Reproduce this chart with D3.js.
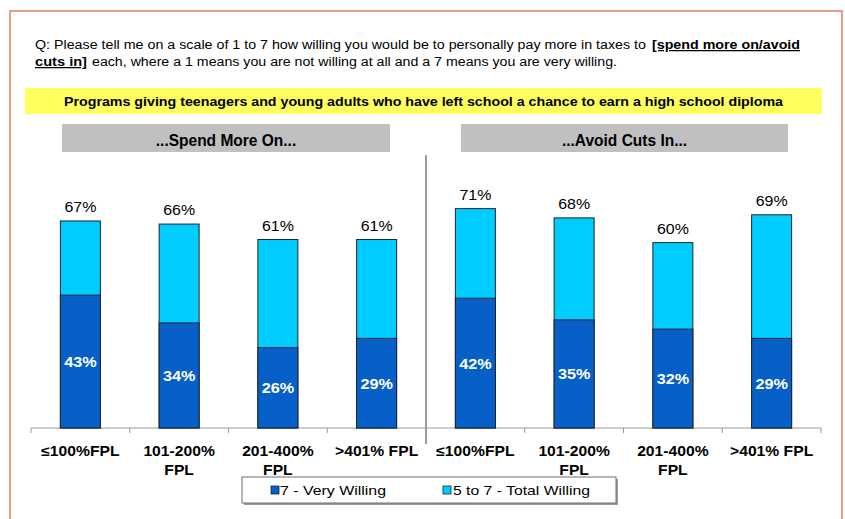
<!DOCTYPE html>
<html>
<head>
<meta charset="utf-8">
<script src="https://cdn.jsdelivr.net/npm/d3@7"></script>
<style>
  html, body { margin: 0; padding: 0; background: #fff; }
  svg { display: block; font-family: Arial, "Liberation Sans", sans-serif; }
</style>
</head>
<body>
<svg id="chart" width="845" height="519"></svg>
<script>
// Survey results: willingness to pay more in taxes, by income group (% of FPL)
const incomeGroups = ["≤100%FPL", "101-200%\nFPL", "201-400%\nFPL", ">401% FPL"];
const panelTitles = ["...Spend More On...", "...Avoid Cuts In..."];
const seriesNames = ["7 - Very Willing", "5 to 7 - Total Willing"];
const spendVeryWilling = [43, 34, 26, 29];
const spendTotalWilling = [67, 66, 61, 61];
const avoidVeryWilling = [42, 35, 32, 29];
const avoidTotalWilling = [71, 68, 60, 69];
const questionLine1 = ["Q: Please tell me on a scale of 1 to 7 how willing you would be to personally pay more in taxes to", "[spend more on/avoid"];
const questionLine2 = ["cuts in]", "each, where a 1 means you are not willing at all and a 7 means you are very willing."];
const programTitle = "Programs giving teenagers and young adults who have left school a chance to earn a high school diploma";

const DARK = "#0660C8", LIGHT = "#00CCFF", EDGE = "#1c2433";

// Flat list of bars: panel index, group index, values
const rows = [];
[[spendVeryWilling, spendTotalWilling], [avoidVeryWilling, avoidTotalWilling]].forEach(([very, total], p) => {
  incomeGroups.forEach((g, i) => rows.push({ key: p + "-" + i, panel: p, group: g, very: very[i], total: total[i] }));
});

const svg = d3.select("#chart");

// text helper with optional horizontal scaling
function label(parent, o) {
  const g = parent.append("g").attr("transform", `translate(${o.x},${o.y}) scale(${o.sx || 1},1)`);
  const t = g.append("text")
    .attr("text-anchor", o.anchor || "start")
    .attr("font-size", o.size)
    .attr("font-weight", o.weight || "normal")
    .attr("fill", o.fill || "#000")
    .text(o.text);
  if (o.dy) t.attr("dy", o.dy);
  return t;
}

// outer frame
svg.append("rect").attr("x", 10).attr("y", 11).attr("width", 832).attr("height", 520)
  .attr("fill", "#fff").attr("stroke", "#E8836B").attr("stroke-width", 1.6);

// question text (fitted segments)
function seg(x, y, text, width, bold) {
  const t = svg.append("text").attr("x", x).attr("y", y).attr("font-size", 12.5)
    .attr("font-weight", bold ? "bold" : "normal")
    .attr("textLength", width).attr("lengthAdjust", "spacingAndGlyphs")
    .text(text);
  if (bold) t.attr("text-decoration", "underline");
}
seg(35, 49, questionLine1[0], 611, false);
seg(652, 49, questionLine1[1], 148, true);
seg(35, 66, questionLine2[0], 52, true);
seg(92, 66, questionLine2[1], 525, false);

// yellow program banner
svg.append("rect").attr("x", 25).attr("y", 88).attr("width", 797).attr("height", 26).attr("fill", "#FFFF5E");
svg.append("text").attr("x", 64).attr("y", 106).attr("font-size", 12.5).attr("font-weight", "bold")
  .attr("textLength", 719).attr("lengthAdjust", "spacingAndGlyphs").text(programTitle);

// scales
const keys = rows.map(d => d.key);
const x = d3.scaleBand().domain(keys).range([31, 821]).paddingInner(0.595).paddingOuter(0.2975);
const step = x.step();
const y = d3.scaleLinear().domain([0, 100]).range([428, 119]);

// panel header boxes
const panelExtent = [[62, 390], [461, 788]];
panelTitles.forEach((t, p) => {
  const [a, b] = panelExtent[p];
  svg.append("rect").attr("x", a).attr("y", 124).attr("width", b - a).attr("height", 28).attr("fill", "#C0C0C0");
  label(svg, { x: (a + b) / 2, y: 146, text: t, size: 16, weight: "bold", anchor: "middle", sx: 0.97 });
});

// divider between panels
const divX = 31 + step * incomeGroups.length;
svg.append("line").attr("x1", divX).attr("x2", divX).attr("y1", 155).attr("y2", 444)
  .attr("stroke", "#7a7a7a").attr("stroke-width", 1.5);

// axis baseline and category boundary ticks
const axis = svg.append("g").attr("class", "x-axis");
axis.append("line").attr("x1", 31).attr("x2", 821).attr("y1", y(0)).attr("y2", y(0))
  .attr("stroke", "#9a9a9a").attr("stroke-width", 1);
d3.range(rows.length + 1).forEach(i => {
  if (i === incomeGroups.length) return;
  const tx = 31 + i * step;
  axis.append("line").attr("x1", tx).attr("x2", tx).attr("y1", y(0)).attr("y2", y(0) + 5)
    .attr("stroke", "#9a9a9a").attr("stroke-width", 1);
});

// bars: total behind, very willing in front
const bars = svg.append("g");
bars.selectAll("rect.total").data(rows).join("rect").attr("class", "total")
  .attr("x", d => x(d.key)).attr("width", x.bandwidth())
  .attr("y", d => y(d.total)).attr("height", d => y(0) - y(d.total))
  .attr("fill", LIGHT).attr("stroke", EDGE).attr("stroke-width", 1);
bars.selectAll("rect.very").data(rows).join("rect").attr("class", "very")
  .attr("x", d => x(d.key)).attr("width", x.bandwidth())
  .attr("y", d => y(d.very)).attr("height", d => y(0) - y(d.very))
  .attr("fill", DARK).attr("stroke", EDGE).attr("stroke-width", 1);

// value labels
rows.forEach(d => {
  const cx = x(d.key) + x.bandwidth() / 2;
  label(svg, { x: cx, y: y(d.total) - 9, text: d.total + "%", size: 14.5, anchor: "middle", sx: 1.1 });
  label(svg, { x: cx, y: (y(d.very) + y(0)) / 2, dy: "0.36em", text: d.very + "%", size: 15, weight: "bold", anchor: "middle", fill: "#fff", sx: 1.08 });
});

// category labels
rows.forEach(d => {
  const cx = x(d.key) + x.bandwidth() / 2;
  d.group.split("\n").forEach((line, j) => {
    label(svg, { x: cx, y: 456 + j * 19, text: line, size: 14, weight: "bold", anchor: "middle", sx: 1.12 });
  });
});

// legend
const lg = svg.append("g");
lg.append("rect").attr("x", 244).attr("y", 479).attr("width", 374).attr("height", 26).attr("fill", "#9a9a9a");
lg.append("rect").attr("x", 242).attr("y", 477).attr("width", 374).attr("height", 26)
  .attr("fill", "#fff").attr("stroke", "#6f6f6f").attr("stroke-width", 1);
const legendItems = [
  { name: seriesNames[0], color: DARK, sx: 271, tx: 280, w: 106 },
  { name: seriesNames[1], color: LIGHT, sx: 443, tx: 453, w: 137 }
];
legendItems.forEach(it => {
  lg.append("rect").attr("x", it.sx).attr("y", 486).attr("width", 8).attr("height", 8)
    .attr("fill", it.color).attr("stroke", EDGE).attr("stroke-width", 0.8);
  lg.append("text").attr("x", it.tx).attr("y", 495).attr("font-size", 13.5)
    .attr("textLength", it.w).attr("lengthAdjust", "spacingAndGlyphs").text(it.name);
});
</script>
</body>
</html>
